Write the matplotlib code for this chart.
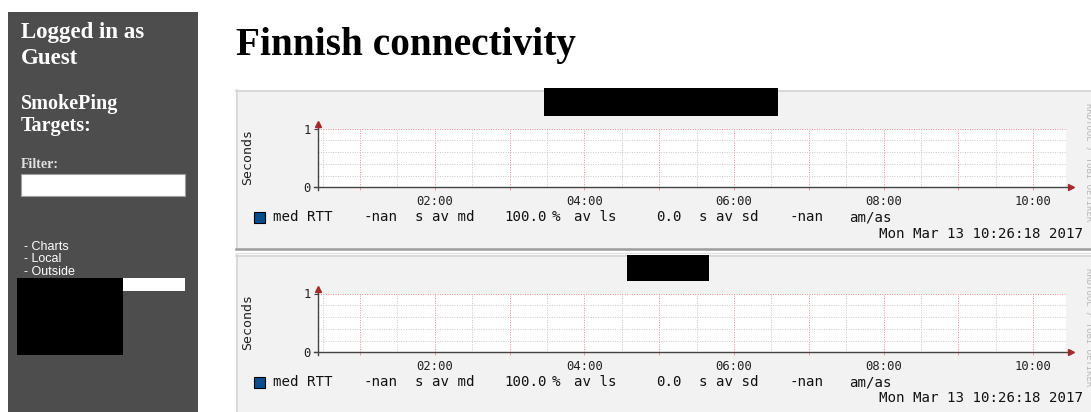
import numpy as np
import matplotlib.pyplot as plt
from matplotlib.patches import Rectangle

W, H = 1091, 412

# graph data: both targets report nothing (median RTT is NaN, 100 % loss)
start_h = 26 / 60 + 18 / 3600          # 00:26:18
end_h = start_h + 10                   # 10:26:18
rtt_times = [start_h, end_h]
rtt_values = [[np.nan, np.nan], [np.nan, np.nan]]

hour_ticks = [1, 2, 3, 4, 5, 6, 7, 8, 9, 10]
hour_labels = ['', '02:00', '', '04:00', '', '06:00', '', '08:00', '', '10:00']
half_hour_ticks = [0.5, 1.5, 2.5, 3.5, 4.5, 5.5, 6.5, 7.5, 8.5, 9.5]
y_major = [0, 1]
y_minor = [0.2, 0.4, 0.6, 0.8]
y_labels = ['0', '1']

legend_items = ['med RTT', '-nan', 's av md', '100.0', '%', 'av ls',
                '0.0', 's av sd', '-nan', 'am/as']
stamp = 'Mon Mar 13 10:26:18 2017'
menu_items = ['- Charts', '- Local', '- Outside']

# layout (pixels)
legend_x = [273, 364, 415, 504, 552, 574, 656, 699, 789, 849]
redact_boxes = [(544, 88, 778, 116), (627, 255, 709, 281)]
panel_dy = 165

SIDEBAR = '#4d4d4d'
PANEL = '#f2f2f2'
RED_GRID = '#f08a8a'
GRAY_GRID = '#c8c8c8'
MONO = 'DejaVu Sans Mono'
SERIF = 'Liberation Serif'

fig = plt.figure(figsize=(W / 100, H / 100), dpi=100)
bg = fig.add_axes([0, 0, 1, 1])
bg.set_xlim(0, W)
bg.set_ylim(H, 0)
bg.axis('off')


def rect(x0, y0, x1, y1, **kw):
    bg.add_patch(Rectangle((x0, y0), x1 - x0, y1 - y0, **kw))


# sidebar
rect(8, 12, 198, H + 5, facecolor=SIDEBAR, edgecolor='none')
bg.text(21, 38, 'Logged in as', family=SERIF, weight='bold', fontsize=16.5, color='white', va='baseline')
bg.text(21, 64, 'Guest', family=SERIF, weight='bold', fontsize=16.5, color='white', va='baseline')
bg.text(21, 109, 'SmokePing', family=SERIF, weight='bold', fontsize=14.5, color='white', va='baseline')
bg.text(21, 131, 'Targets:', family=SERIF, weight='bold', fontsize=14.5, color='white', va='baseline')
bg.text(21, 168, 'Filter:', family=SERIF, weight='bold', fontsize=10, color='#e0e0e0', va='baseline')
rect(21, 174, 185, 196, facecolor='white', edgecolor='#a0a0a0', lw=0.8)
for i, item in enumerate(menu_items):
    bg.text(24, 250 + i * 12.3, item, family='Liberation Sans', fontsize=9, color='white', va='baseline')
rect(17, 278, 123, 355, facecolor='black', edgecolor='none')
rect(123, 278, 185, 291, facecolor='white', edgecolor='none')

# page title
bg.text(236, 55, 'Finnish connectivity', family=SERIF, weight='bold', fontsize=28.3, color='black', va='baseline')

for p in range(2):
    dy = p * panel_dy
    # graph image frame
    rect(236, 90 + dy, W + 5, 249 + dy, facecolor=PANEL, edgecolor='none')
    bg.plot([236, W], [90.5 + dy, 90.5 + dy], color='#d4d4d4', lw=1.2)
    bg.plot([236.5, 236.5], [90 + dy, 249 + dy], color='#d4d4d4', lw=1.2)
    bg.plot([236, W], [248.5 + dy, 248.5 + dy], color='#9c9c9c', lw=1.8)
    if p == 0:
        bg.plot([236, W], [253 + dy, 253 + dy], color='#e2e2e2', lw=1)
    x0, y0, x1, y1 = redact_boxes[p]
    rect(x0, y0, x1, y1, facecolor='black', edgecolor='none', zorder=5)

    # watermark
    bg.text(1088.5, 162 + dy, 'RRDTOOL / TOBI OETIKER', rotation=270, family=MONO,
            fontsize=6.5, color='#b8b8b8', ha='center', va='center')

    # y label
    bg.text(248, 157 + dy, 'Seconds', rotation=90, family=MONO, fontsize=9.5,
            color='#222222', ha='center', va='center')

    # plot area
    top, bot = 128.5 + dy, 187.3 + dy
    ax = fig.add_axes([318 / W, (H - bot) / H, (1066 - 318) / W, (bot - top) / H])
    ax.set_facecolor('white')
    ax.plot(rtt_times, rtt_values[p], color='#0b4d8c', lw=1)
    ax.set_xlim(start_h, end_h)
    ax.set_ylim(0, 1)
    for s in ax.spines.values():
        s.set_visible(False)
    ax.set_xticks(hour_ticks)
    ax.set_xticklabels(hour_labels)
    ax.set_xticks(half_hour_ticks, minor=True)
    ax.set_yticks(y_major)
    ax.set_yticklabels(y_labels)
    ax.set_yticks(y_minor, minor=True)
    ax.grid(which='major', color=RED_GRID, linestyle=(0, (1, 1.5)), lw=0.7)
    ax.grid(which='minor', color=GRAY_GRID, linestyle=(0, (1, 1.5)), lw=0.7)
    ax.tick_params(axis='x', which='major', length=2.5, width=0.6, color=RED_GRID,
                   pad=3, labelsize=8.8, labelcolor='#222222')
    ax.tick_params(axis='x', which='minor', length=0)
    ax.tick_params(axis='y', which='major', length=3, width=0.8, color='#444444',
                   pad=2, labelsize=8.8, labelcolor='#222222')
    ax.tick_params(axis='y', which='minor', length=0)
    for lab in ax.get_xticklabels() + ax.get_yticklabels():
        lab.set_family(MONO)

    # axes with arrow heads
    ax.plot([start_h - 0.06, end_h + 0.03], [0, 0], color='#444444', lw=1, clip_on=False, zorder=4)
    ax.plot([start_h, start_h], [-0.04, 1.06], color='#444444', lw=1, clip_on=False, zorder=4)
    ax.plot([end_h + 0.07], [0], marker='>', ms=5, color='#a52a2a', clip_on=False, zorder=5)
    ax.plot([start_h], [1.07], marker='^', ms=5, color='#a52a2a', clip_on=False, zorder=5)

    # legend line
    rect(254, 212 + dy, 265, 223 + dy, facecolor='#0b4d8c', edgecolor='black', lw=0.8)
    for x, txt in zip(legend_x, legend_items):
        bg.text(x, 217 + dy, txt, family=MONO, fontsize=10.2, color='#111111', va='center')
    bg.text(1083, 233.5 + dy, stamp, family=MONO, fontsize=10.2, color='#111111',
            ha='right', va='center')

fig.savefig('out.png', dpi=100)
